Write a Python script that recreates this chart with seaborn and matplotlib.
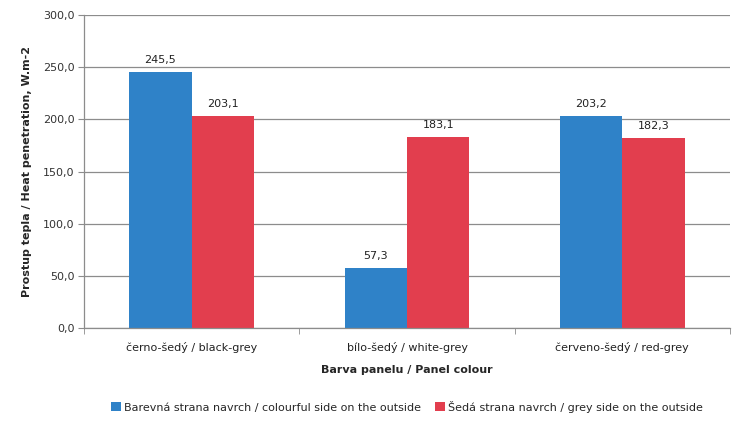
import pandas as pd
import numpy as np
import matplotlib.pyplot as plt
import seaborn as sns

panely = ['černo-šedý / black-grey', 'bílo-šedý / white-grey', 'červeno-šedý / red-grey']
serie = ['Barevná strana navrch / colourful side on the outside',
         'Šedá strana navrch / grey side on the outside']
barevna = [245.5, 57.3, 203.2]
seda = [203.1, 183.1, 182.3]

df = pd.DataFrame({
    'panel': panely * 2,
    'strana': [serie[0]] * 3 + [serie[1]] * 3,
    'hodnota': barevna + seda,
})

sns.set_style('white')
plt.rcParams['font.family'] = ['DejaVu Sans']

fig = plt.figure(figsize=(7.46, 4.24), dpi=100)
ax = fig.add_axes([0.1126, 0.2264, 0.866, 0.738])

sns.barplot(data=df, x='panel', y='hodnota', hue='strana', order=panely, hue_order=serie,
            palette=['#2F82C8', '#E23E4E'], width=0.58, saturation=1, linewidth=0, ax=ax)

for c in ax.containers:
    ax.bar_label(c, labels=[f'{v:.1f}'.replace('.', ',') for v in c.datavalues],
                 padding=5, fontsize=8, color='#222222')

ax.set_ylim(0, 300)
ax.set_xlim(-0.5, 2.5)
ax.set_yticks(np.arange(0, 301, 50))
ax.set_yticklabels([f'{v:.1f}'.replace('.', ',') for v in np.arange(0, 301, 50)], fontsize=8, color='#333333')
ax.yaxis.grid(True, color='#8c8c8c', linewidth=0.9)
ax.set_axisbelow(True)
ax.tick_params(axis='y', length=4, color='#8c8c8c', left=True, pad=3)
ax.tick_params(axis='x', length=0, labelsize=8, labelcolor='#222222', pad=10)
ax.set_xticks([-0.5, 0.5, 1.5, 2.5], minor=True)
ax.tick_params(axis='x', which='minor', length=4, color='#8c8c8c', bottom=True)

for s in ['top', 'right']:
    ax.spines[s].set_visible(False)
for s in ['left', 'bottom']:
    ax.spines[s].set_color('#8c8c8c')
    ax.spines[s].set_linewidth(0.9)

ax.set_xlabel('Barva panelu / Panel colour', fontsize=8, fontweight='bold', labelpad=9)
ax.set_ylabel('Prostup tepla / Heat penetration, W.m-2', fontsize=8, fontweight='bold', labelpad=8)

ax.legend(loc='upper center', bbox_to_anchor=(0.5, -0.2), ncol=2, frameon=False, fontsize=8,
          handlelength=0.9, handleheight=0.9, handletextpad=0.3, columnspacing=1.2)

fig.savefig('out.png', dpi=100)
